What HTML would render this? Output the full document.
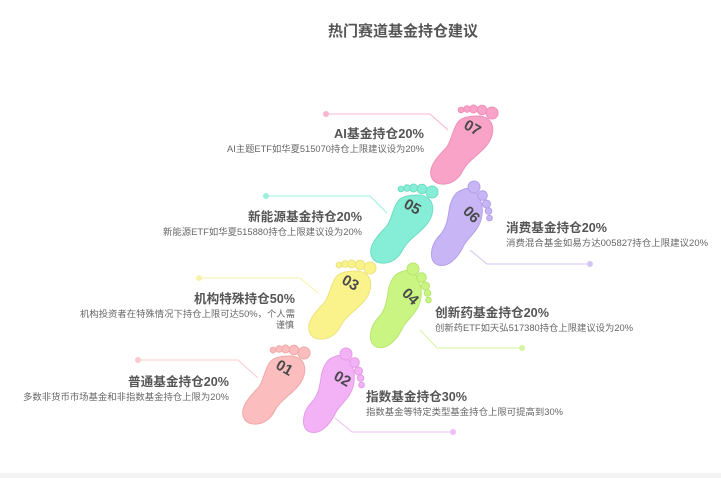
<!DOCTYPE html>
<html><head><meta charset="utf-8"><style>
body{margin:0;background:#fff;}
svg{display:block;font-family:"Liberation Sans","Noto Sans CJK SC",sans-serif;}
</style></head><body>
<svg width="721" height="478" viewBox="0 0 721 478" xmlns="http://www.w3.org/2000/svg">
<defs>
<g id="lf">
<path d="M6,-14 C22,-14 25,2 15,15 C6,26 -4,30 -10,42 C-16,54 -32,58 -39,50 C-46,40 -36,28 -26,18 C-20,11 -20,0 -14,-8 C-10,-13 -2,-14 6,-14 Z"/>
<circle cx="20" cy="-17" r="6"/><circle cx="10" cy="-20" r="4.8"/><circle cx="1.5" cy="-21" r="4"/><circle cx="-5" cy="-21" r="3.3"/><circle cx="-11" cy="-20" r="2.8"/>
</g>
<g id="rf">
<path d="M-8,-25 C5,-32 14,-15 12,0 C10,15 0,20 -6,30 C-12,43 -22,53 -32,50 C-42,47 -40,30 -30,20 C-22,11 -22,0 -20,-10 C-17,-19 -14,-23 -8,-25 Z"/>
<circle cx="4" cy="-28" r="6"/><circle cx="12.5" cy="-19.5" r="4.8"/><circle cx="16.5" cy="-11" r="4"/><circle cx="18.5" cy="-4" r="3.3"/><circle cx="19.5" cy="3" r="2.8"/>
</g>
</defs>
<rect x="0" y="473" width="721" height="5" fill="#f4f4f4"/>
<text x="403" y="36" text-anchor="middle" font-size="15" font-weight="bold" fill="#555">热门赛道基金持仓建议</text>

<g fill="none" stroke-width="1">
<polyline points="326,114 430,114 448,130" stroke="#f9b4d2"/>
<polyline points="266,196 370,196 387,213" stroke="#9cf0dc"/>
<polyline points="470,250 487,264 590,264" stroke="#d3c6f2"/>
<polyline points="199,278 300,278 318,293" stroke="#f7f2a8"/>
<polyline points="420,330 437,348 522,348" stroke="#d4f59f"/>
<polyline points="138,360 238,360 258,378" stroke="#f9cccc"/>
<polyline points="335,418 352,432 453,432" stroke="#f0bdf2"/>
</g>
<circle cx="326" cy="114" r="3" fill="#f9b4d2"/>
<circle cx="266" cy="196" r="3" fill="#9cf0dc"/>
<circle cx="590" cy="264" r="3" fill="#d3c6f2"/>
<circle cx="199" cy="278" r="3" fill="#f7f2a8"/>
<circle cx="522" cy="348" r="3" fill="#d4f59f"/>
<circle cx="138" cy="360" r="3" fill="#f9cccc"/>
<circle cx="453" cy="432" r="3" fill="#f0bdf2"/>

<use href="#lf" transform="translate(472,130)" fill="#f9a3c8" stroke="#ef8fb8"/>
<use href="#lf" transform="translate(412,209)" fill="#86eed6" stroke="#6fdcc2"/>
<use href="#lf" transform="translate(350,285)" fill="#faf38c" stroke="#ece27a"/>
<use href="#lf" transform="translate(284,370)" fill="#fbbdbd" stroke="#efa8a8"/>
<use href="#rf" transform="translate(470,215)" fill="#c7b5f5" stroke="#b3a0ea"/>
<use href="#rf" transform="translate(409,297)" fill="#caf583" stroke="#b6e66c"/>
<use href="#rf" transform="translate(342,382)" fill="#f3b2f6" stroke="#e59ce8"/>

<g font-size="15" font-weight="bold" fill="#4a4a4a" text-anchor="middle">
<text transform="translate(470,132) rotate(30)">07</text>
<text transform="translate(410,211) rotate(30)">05</text>
<text transform="translate(348,287) rotate(30)">03</text>
<text transform="translate(282,372) rotate(30)">01</text>
<text transform="translate(468,218) rotate(45)">06</text>
<text transform="translate(407,300) rotate(45)">04</text>
<text transform="translate(340,383) rotate(30)">02</text>
</g>

<g fill="#555">
<text x="334" y="138" font-size="12.5" font-weight="bold" textLength="90" lengthAdjust="spacingAndGlyphs">AI基金持仓20%</text>
<text x="227" y="152" font-size="9" fill="#666" textLength="197" lengthAdjust="spacingAndGlyphs">AI主题ETF如华夏515070持仓上限建议设为20%</text>
<text x="248" y="221" font-size="12.5" font-weight="bold" textLength="114" lengthAdjust="spacingAndGlyphs">新能源基金持仓20%</text>
<text x="163" y="235" font-size="9" fill="#666" textLength="199" lengthAdjust="spacingAndGlyphs">新能源ETF如华夏515880持仓上限建议设为20%</text>
<text x="194" y="303" font-size="12.5" font-weight="bold" textLength="101" lengthAdjust="spacingAndGlyphs">机构特殊持仓50%</text>
<text x="80" y="317" font-size="9" fill="#666" textLength="215" lengthAdjust="spacingAndGlyphs">机构投资者在特殊情况下持仓上限可达50%，个人需</text>
<text x="276" y="328" font-size="9" fill="#666">谨慎</text>
<text x="128" y="386" font-size="12.5" font-weight="bold" textLength="101" lengthAdjust="spacingAndGlyphs">普通基金持仓20%</text>
<text x="23" y="400" font-size="9" fill="#666" textLength="206" lengthAdjust="spacingAndGlyphs">多数非货币市场基金和非指数基金持仓上限为20%</text>
<text x="506" y="232" font-size="12.5" font-weight="bold" textLength="101" lengthAdjust="spacingAndGlyphs">消费基金持仓20%</text>
<text x="506" y="246" font-size="9" fill="#666" textLength="202" lengthAdjust="spacingAndGlyphs">消费混合基金如易方达005827持仓上限建议20%</text>
<text x="435" y="317" font-size="12.5" font-weight="bold" textLength="114" lengthAdjust="spacingAndGlyphs">创新药基金持仓20%</text>
<text x="435" y="331" font-size="9" fill="#666" textLength="198" lengthAdjust="spacingAndGlyphs">创新药ETF如天弘517380持仓上限建议设为20%</text>
<text x="366" y="401" font-size="12.5" font-weight="bold" textLength="101" lengthAdjust="spacingAndGlyphs">指数基金持仓30%</text>
<text x="366" y="415" font-size="9" fill="#666" textLength="197" lengthAdjust="spacingAndGlyphs">指数基金等特定类型基金持仓上限可提高到30%</text>
</g>
</svg>
</body></html>
